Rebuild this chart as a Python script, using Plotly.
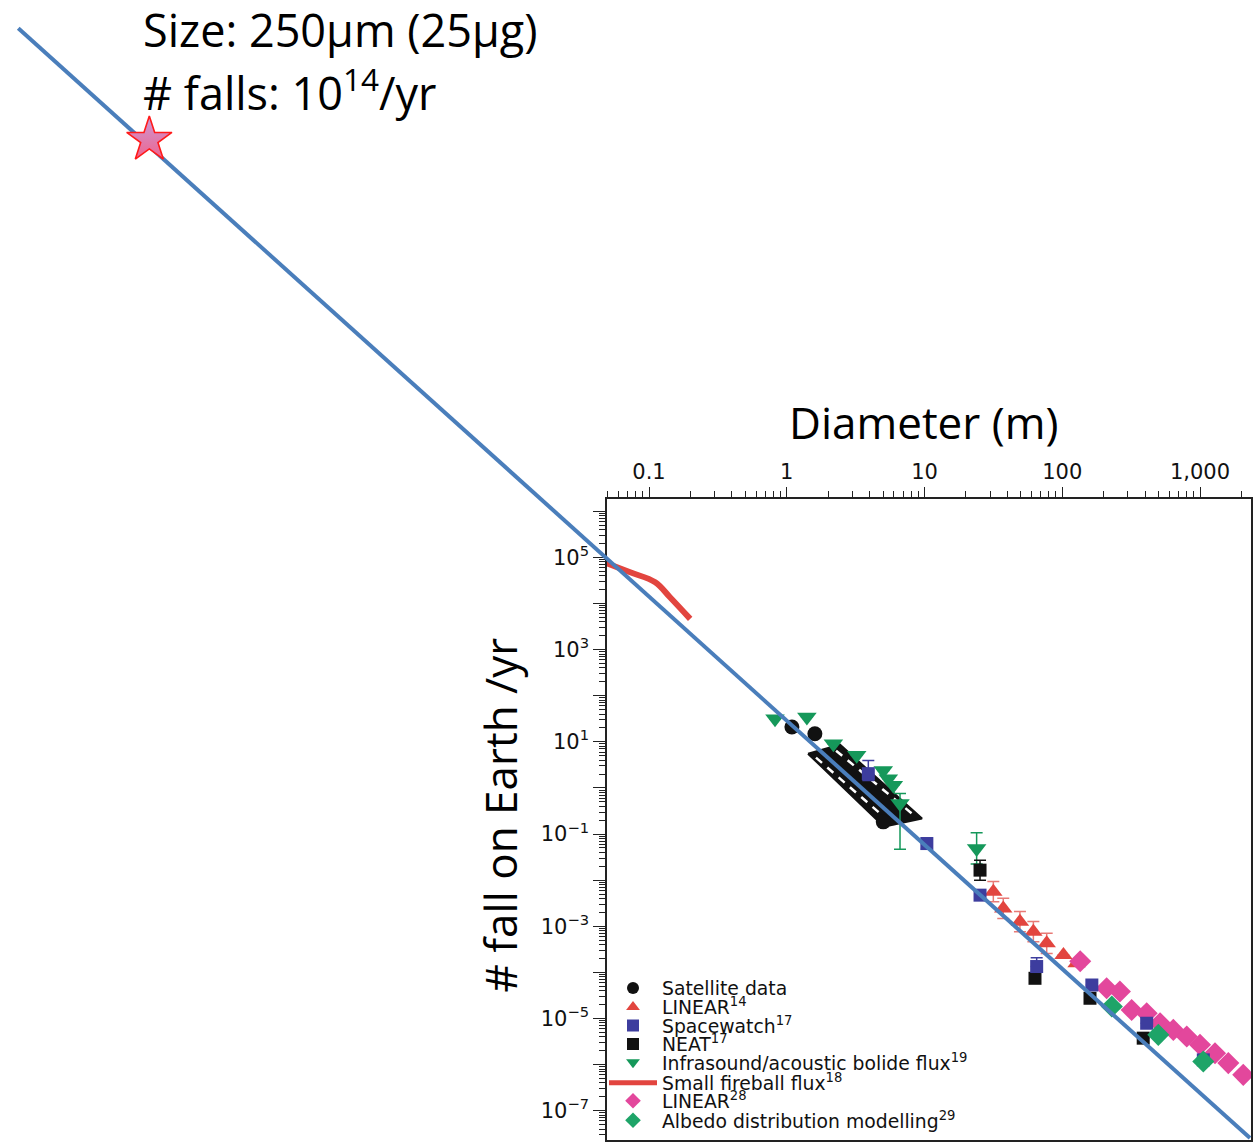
import plotly.graph_objects as go

# ---------------- data (diameter in m, number of falls per year) ----------------
sat_d = [1.09, 1.60, 5.02]
sat_n = [20.9, 15.0, 0.184]
sat_band_d = [1.427, 2.436, 9.59, 5.08, 1.427]
sat_band_n = [5.53, 8.65, 0.2166, 0.1453, 5.53]
sat_low_d = [1.63, 5.25]
sat_low_n = [4.53, 0.2166]
sat_up_d = [2.28, 8.11]
sat_up_n = [6.42, 0.278]

linear14_d = [31.6, 37.3, 49.3, 61.7, 77.1, 102, 127]
linear14_n = [5.61e-3, 2.44e-3, 1.26e-3, 7.64e-4, 4.27e-4, 2.38e-4, 1.57e-4]
linear14_ep = [3.7e-3, 1.6e-3, 8.3e-4, 5.0e-4, 2.8e-4, 0, 0]
linear14_em = [2.2e-3, 9.7e-4, 5.0e-4, 3.0e-4, 1.7e-4, 0, 0]

spacewatch_d = [3.91, 10.4, 25.3, 65.2, 164, 410, 1057]
spacewatch_n = [2.04, 0.0622, 4.73e-3, 1.34e-4, 5.33e-5, 7.9e-6, 1.27e-6]
spacewatch_ep = [1.9, 0.02, 0, 7.5e-5, 0, 0, 0]
spacewatch_em = [0.6, 0.015, 0, 0, 0, 0, 0]

neat_d = [25.3, 63.4, 159, 387]
neat_n = [0.0165, 7.45e-5, 2.75e-5, 3.75e-6]
neat_ep = [0.0106, 0, 0, 0]
neat_em = [0.0065, 0, 0, 0]

infra_d = [0.822, 1.40, 2.18, 3.22, 5.02, 5.46, 5.94, 6.64, 23.9]
infra_n = [31.6, 34.4, 9.1, 5.08, 2.40, 1.59, 1.14, 0.457, 0.0485]
infra_ep = [0, 0, 0, 0, 0, 0, 0, 0.3, 0.058]
infra_em = [0, 0, 0, 0, 0, 0, 0, 0.41, 0.026]

fireball_d = [0.048, 0.073, 0.111, 0.142, 0.199]
fireball_n = [76700, 47300, 28800, 13600, 4620]

linear28_d = [135, 210, 262, 319, 410, 513, 640, 801, 1000, 1285, 1605, 2060]
linear28_n = [1.74e-4, 4.53e-5, 3.84e-5, 1.53e-5, 1.30e-5, 7.92e-6, 5.67e-6,
              4.07e-6, 2.69e-6, 1.77e-6, 1.08e-6, 6.0e-7]

albedo_d = [229, 498, 1057]
albedo_n = [1.82e-5, 4.42e-6, 1.17e-6]

powerlaw_d = [2.64e-6, 2307]
powerlaw_n = [2.96e16, 2.56e-8]
star_d = [2.36e-5]
star_n = [1.13e14]

x_tick_vals = [0.1, 1, 10, 100, 1000]
x_tick_text = ["0.1", "1", "10", "100", "1,000"]
y_tick_vals = [1e-7, 1e-6, 1e-5, 1e-4, 1e-3, 1e-2, 1e-1, 1, 10, 100, 1e3, 1e4, 1e5, 1e6]
y_tick_text = ["10<sup>\u22127</sup>", "", "10<sup>\u22125</sup>", "", "10<sup>\u22123</sup>", "",
               "10<sup>\u22121</sup>", "", "10<sup>1</sup>", "", "10<sup>3</sup>", "",
               "10<sup>5</sup>", ""]

names = ["Satellite data", "LINEAR<sup>14</sup>", "Spacewatch<sup>17</sup>", "NEAT<sup>17</sup>",
         "Infrasound/acoustic bolide flux<sup>19</sup>", "Small fireball flux<sup>18</sup>",
         "LINEAR<sup>28</sup>", "Albedo distribution modelling<sup>29</sup>"]

# ---------------- styling ----------------
W, H = 1256, 1142
BLACK = "#111111"
RED = "#e2453f"
BLUE = "#3d3d9e"
GREEN = "#15985a"
MAGENTA = "#e3479c"
GREEN2 = "#1ea468"
LINEBLUE = "#4a7ebb"
TITLE_FONT = "Open Sans"

legend_rows = [990, 1009, 1027.5, 1046, 1064.5, 1085, 1103, 1122.5]
legend_ids = ["legend", "legend2", "legend3", "legend4", "legend5", "legend6", "legend7", "legend8"]

fig = go.Figure()

# small fireball flux line
fig.add_trace(go.Scatter(x=fireball_d, y=fireball_n, mode="lines", name=names[5],
                         line=dict(color=RED, width=6, shape="spline"), legend=legend_ids[5]))
# satellite envelope band
fig.add_trace(go.Scatter(x=sat_band_d, y=sat_band_n, mode="lines", fill="toself",
                         fillcolor=BLACK, line=dict(color=BLACK, width=2), showlegend=False))
fig.add_trace(go.Scatter(x=sat_low_d, y=sat_low_n, mode="lines",
                         line=dict(color="white", width=2.5, dash="8px,7px"), showlegend=False))
fig.add_trace(go.Scatter(x=sat_up_d, y=sat_up_n, mode="lines",
                         line=dict(color="white", width=2.5, dash="8px,7px"), showlegend=False))
# satellite points
fig.add_trace(go.Scatter(x=sat_d, y=sat_n, mode="markers", name=names[0], legend=legend_ids[0],
                         marker=dict(symbol="circle", size=15, color=BLACK)))
# infrasound
fig.add_trace(go.Scatter(x=infra_d, y=infra_n, mode="markers", name=names[4], legend=legend_ids[4],
                         marker=dict(symbol="triangle-down", size=17, color=GREEN),
                         error_y=dict(type="data", array=infra_ep, arrayminus=infra_em,
                                      color=GREEN, thickness=1.5, width=6)))
# LINEAR14
fig.add_trace(go.Scatter(x=linear14_d, y=linear14_n, mode="markers", name=names[1], legend=legend_ids[1],
                         marker=dict(symbol="triangle-up", size=16, color=RED),
                         error_y=dict(type="data", array=linear14_ep, arrayminus=linear14_em,
                                      color="#e87a76", thickness=1.5, width=6)))
# LINEAR28
fig.add_trace(go.Scatter(x=linear28_d, y=linear28_n, mode="markers", name=names[6], legend=legend_ids[6],
                         marker=dict(symbol="diamond", size=17, color=MAGENTA)))
# NEAT
fig.add_trace(go.Scatter(x=neat_d, y=neat_n, mode="markers", name=names[3], legend=legend_ids[3],
                         marker=dict(symbol="square", size=13, color=BLACK),
                         error_y=dict(type="data", array=neat_ep, arrayminus=neat_em,
                                      color=BLACK, thickness=1.5, width=6)))
# Spacewatch
fig.add_trace(go.Scatter(x=spacewatch_d, y=spacewatch_n, mode="markers", name=names[2], legend=legend_ids[2],
                         marker=dict(symbol="square", size=13, color=BLUE),
                         error_y=dict(type="data", array=spacewatch_ep, arrayminus=spacewatch_em,
                                      color=BLUE, thickness=1.5, width=6)))
# Albedo
fig.add_trace(go.Scatter(x=albedo_d, y=albedo_n, mode="markers", name=names[7], legend=legend_ids[7],
                         marker=dict(symbol="diamond", size=17, color=GREEN2)))

# extrapolated power law line and star on the full-figure axes
fig.add_trace(go.Scatter(x=powerlaw_d, y=powerlaw_n, mode="lines", xaxis="x2", yaxis="y2",
                         line=dict(color=LINEBLUE, width=4), showlegend=False))
fig.add_trace(go.Scatter(x=star_d, y=star_n, mode="markers", xaxis="x2", yaxis="y2", showlegend=False,
                         marker=dict(symbol="star", size=34, color="#c99ad6",
                                     gradient=dict(type="vertical", color="#f0648e"),
                                     line=dict(color="#ff1a1a", width=1.6))))

x_minor = [k * 10.0 ** e for e in range(-2, 4) for k in range(2, 10)]
y_minor = [k * 10.0 ** e for e in range(-8, 7) for k in range(2, 10)]

tickfont_x = dict(family="DejaVu Sans", size=21, color=BLACK)
tickfont_y = dict(family="DejaVu Sans", size=21, color=BLACK)

layout_legends = {}
for lid, row in zip(legend_ids, legend_rows):
    layout_legends[lid] = dict(x=604 / W, y=1 - row / H, xanchor="left", yanchor="middle",
                               bgcolor="rgba(0,0,0,0)", borderwidth=0, itemwidth=48,
                               itemsizing="constant",
                               font=dict(family="DejaVu Sans", size=18.8, color=BLACK))

fig.update_layout(
    width=W, height=H, margin=dict(l=0, r=0, t=0, b=0),
    paper_bgcolor="white", plot_bgcolor="rgba(0,0,0,0)",
    xaxis=dict(type="log", domain=[607 / W, 1251 / W], range=[-1.3049, 3.3702], side="top",
               anchor="y", showline=True, linecolor="#222", linewidth=1.5, mirror=True,
               ticks="outside", ticklen=10, tickwidth=1.3, tickcolor="#222",
               tickmode="array", tickvals=x_tick_vals, ticktext=x_tick_text, tickfont=tickfont_x,
               minor=dict(tickmode="array", tickvals=x_minor, ticks="outside", ticklen=6,
                          tickwidth=1.2, tickcolor="#222"),
               showgrid=False, zeroline=False),
    yaxis=dict(type="log", domain=[0, 1 - 500 / H], range=[-7.634, 6.2619], anchor="x",
               showline=True, linecolor="#222", linewidth=1.5, mirror=True,
               ticks="outside", ticklen=12, tickwidth=1.3, tickcolor="#222",
               tickmode="array", tickvals=y_tick_vals, ticktext=y_tick_text, tickfont=tickfont_y,
               minor=dict(tickmode="array", tickvals=y_minor, ticks="outside", ticklen=6,
                          tickwidth=1.2, tickcolor="#222"),
               showgrid=False, zeroline=False),
    xaxis2=dict(type="log", domain=[0, 1], range=[-5.711, 3.4066], visible=False, anchor="y2"),
    yaxis2=dict(type="log", domain=[0, 1], range=[-7.634, 17.084], visible=False, anchor="x2"),
    annotations=[
        dict(text="Diameter (m)", x=924 / W, y=1 - 423 / H, xref="paper", yref="paper",
             showarrow=False, xanchor="center", yanchor="middle",
             font=dict(family=TITLE_FONT, size=44, color="black")),
        dict(text="# fall on Earth /yr", x=500 / W, y=1 - 817 / H, xref="paper", yref="paper",
             showarrow=False, xanchor="center", yanchor="middle", textangle=-90,
             font=dict(family=TITLE_FONT, size=44, color="black")),
        dict(text="Size: 250\u03bcm (25\u03bcg)", x=141 / W, y=1 - 30 / H, xref="paper", yref="paper",
             showarrow=False, xanchor="left", yanchor="middle",
             font=dict(family=TITLE_FONT, size=45, color="black")),
        dict(text="# falls: 10<sup>14</sup>/yr", x=141 / W, y=1 - 90 / H, xref="paper", yref="paper",
             showarrow=False, xanchor="left", yanchor="middle",
             font=dict(family=TITLE_FONT, size=45, color="black")),
    ],
    **layout_legends,
)

fig.write_html("out.html")
